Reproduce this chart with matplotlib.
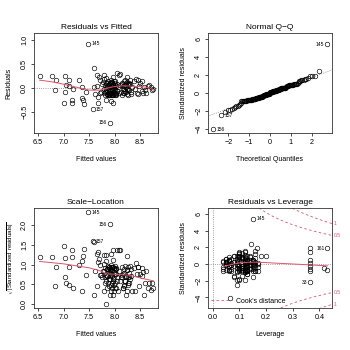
import matplotlib
matplotlib.use("Agg")
import matplotlib.pyplot as plt
from matplotlib.lines import Line2D
import numpy as np
from statistics import NormalDist

plt.rcParams['font.family'] = ['Liberation Sans', 'DejaVu Sans']
plt.rcParams['mathtext.fontset'] = 'custom'
plt.rcParams['mathtext.rm'] = 'Liberation Sans'

# ---- data (observations of the fitted linear model) ----
obs_names = ["145", "156", "157", "161", "33"]   # names of the first five observations

fitted = [7.48, 7.90, 7.57, 8.08, 7.00,
          6.53, 6.77, 6.85, 6.84, 7.03, 7.10, 7.30, 7.04, 7.11, 7.19, 7.03, 7.36, 7.43,
          7.16, 7.16, 7.36, 7.38, 7.40,
          7.59, 7.66, 7.69, 7.65, 7.62, 7.68, 7.68, 7.60, 7.72, 7.74, 7.71, 7.75,
          7.78, 7.79, 7.80, 7.81, 7.82, 7.83, 7.83, 7.84, 7.85, 7.85, 7.86, 7.86, 7.87, 7.87,
          7.88, 7.88, 7.89, 7.89, 7.90, 7.90, 7.91, 7.91, 7.92, 7.92, 7.93, 7.93, 7.94, 7.94,
          7.95, 7.95, 7.96, 7.96, 7.97, 7.97, 7.98, 7.98, 7.99, 7.99, 8.00, 8.00, 8.01, 8.01,
          8.02, 8.03, 8.03, 8.04, 8.05, 8.05, 8.07, 8.08, 8.10, 8.10, 7.84, 7.92, 7.80, 7.97,
          7.79, 7.81, 7.83, 7.85, 7.87, 7.88, 7.90, 7.91, 7.93, 7.94, 7.95, 7.96, 7.98, 7.99,
          8.01, 8.02,
          8.13, 8.14, 8.15, 8.16, 8.17, 8.18, 8.19, 8.20, 8.21, 8.21, 8.22, 8.23, 8.24, 8.24,
          8.25, 8.26, 8.27, 8.28, 8.29, 8.30, 8.31, 8.33, 8.34, 8.18, 8.26, 8.15, 8.17, 8.19,
          8.22, 8.25, 8.27, 8.29, 8.32,
          8.38, 8.42, 8.40, 8.44, 8.46, 8.48, 8.50, 8.53, 8.53, 8.55, 8.57, 8.59, 8.62, 8.66,
          8.68, 8.71, 8.74, 8.76, 8.45]

resid = [0.92, -0.73, -0.45, 0.26, -0.32,
         0.25, 0.25, 0.16, -0.04, 0.24, 0.16, 0.17, 0.05, 0.04, -0.03, -0.08, 0.02, -0.09,
         -0.25, -0.33, -0.21, -0.26, -0.34,
         0.42, 0.27, 0.23, 0.04, -0.13, -0.20, -0.31, 0.01, 0.16, -0.08, -0.10, 0.08,
         0.12, -0.02, -0.12, 0.05, -0.15, 0.20, -0.06, 0.00, -0.14, 0.09, -0.09, 0.03, -0.16, 0.14,
         -0.04, -0.11, 0.07, -0.16, 0.01, -0.07, 0.11, -0.13, -0.02, 0.17, -0.10, 0.04, -0.15, 0.09,
         -0.05, 0.13, -0.33, -0.01, 0.06, -0.15, 0.02, -0.08, 0.15, -0.12, 0.05, -0.16, -0.03, 0.10,
         -0.10, 0.03, -0.15, 0.08, 0.32, -0.06, 0.02, -0.12, 0.28, 0.06, -0.26, -0.28, 0.27, 0.22,
         0.18, -0.08, 0.10, -0.14, 0.05, -0.15, 0.09, -0.15, 0.12, -0.03, -0.16, 0.07, -0.14, -0.04,
         0.14, -0.14,
         -0.08, 0.10, -0.15, 0.03, -0.03, 0.14, -0.11, 0.06, 0.16, -0.06, 0.01, 0.09, -0.13, 0.22,
         -0.02, 0.05, -0.15, 0.11, -0.05, 0.07, 0.16, -0.09, 0.02, -0.03, 0.07, 0.08, -0.10, 0.04,
         -0.08, 0.13, -0.04, 0.08, -0.14,
         0.15, 0.19, -0.02, -0.10, -0.13, 0.04, 0.10, 0.14, -0.07, -0.12, 0.01, -0.05, -0.10, 0.03,
         0.05, 0.02, -0.05, -0.03, 0.16]

leverage = [0.152, 0.065, 0.089, 0.43, 0.365,
            0.10, 0.12, 0.08, 0.06, 0.11, 0.09, 0.13, 0.05, 0.14, 0.07, 0.10, 0.12, 0.16,
            0.11, 0.09, 0.13, 0.08, 0.12,
            0.145, 0.16, 0.10, 0.05, 0.06, 0.13, 0.10, 0.09, 0.20, 0.365, 0.07, 0.15,
            0.11, 0.05, 0.13, 0.04, 0.10, 0.16, 0.12, 0.05, 0.09, 0.14, 0.11, 0.17, 0.12, 0.10,
            0.06, 0.15, 0.13, 0.04, 0.11, 0.17, 0.09, 0.12, 0.05, 0.14, 0.10, 0.16, 0.13, 0.06,
            0.11, 0.12, 0.10, 0.15, 0.04, 0.17, 0.13, 0.09, 0.11, 0.05, 0.14, 0.12, 0.16, 0.10,
            0.13, 0.07, 0.11, 0.15, 0.165, 0.04, 0.13, 0.10, 0.365, 0.06, 0.15, 0.08, 0.12, 0.10,
            0.08, 0.14, 0.07, 0.12, 0.09, 0.16, 0.13, 0.06, 0.11, 0.14, 0.09, 0.12, 0.15, 0.08,
            0.11, 0.13,
            0.11, 0.05, 0.13, 0.16, 0.09, 0.12, 0.04, 0.15, 0.10, 0.13, 0.17, 0.06, 0.11, 0.365,
            0.10, 0.12, 0.16, 0.05, 0.13, 0.09, 0.18, 0.11, 0.15, 0.365, 0.365, 0.12, 0.14, 0.08,
            0.12, 0.16, 0.10, 0.13, 0.07,
            0.10, 0.12, 0.07, 0.13, 0.365, 0.05, 0.11, 0.14, 0.417, 0.06, 0.12, 0.15, 0.43, 0.13,
            0.08, 0.365, 0.11, 0.14, 0.06]

sigma = 0.185          # residual standard error of the model
n_params = 19          # number of model coefficients
cook_levels = [0.5, 1.0]

# smoothed (red) curves
smooth_rf_x = [6.53, 6.80, 7.06, 7.30, 7.51, 7.71, 7.85, 7.97, 8.10, 8.23, 8.40, 8.56, 8.68, 8.76]
smooth_rf_y = [0.16, 0.12, 0.06, 0.00, -0.05, -0.05, -0.01, 0.02, 0.04, 0.04, 0.03, 0.02, 0.00, -0.05]
smooth_sl_x = [6.53, 7.00, 7.50, 7.70, 7.85, 8.00, 8.30, 8.55, 8.76]
smooth_sl_y = [1.08, 1.02, 0.92, 0.85, 0.76, 0.76, 0.73, 0.65, 0.59]
smooth_lv_x = [0.04, 0.07, 0.10, 0.13, 0.16, 0.19, 0.25, 0.32, 0.37, 0.43]
smooth_lv_y = [-0.30, -0.05, 0.12, 0.20, 0.22, 0.18, 0.08, -0.03, -0.12, -0.22]

# ---- derived diagnostics ----
f = np.array(fitted)
r = np.array(resid)
h = np.array(leverage)
std_res = r / (sigma * np.sqrt(1 - h))
sqrt_abs = np.sqrt(np.abs(std_res))
n = len(r)
nd = NormalDist()
theo = np.array([nd.inv_cdf((i - 0.5) / n) for i in range(1, n + 1)])
order = np.argsort(std_res)
qq_x = np.empty(n)
qq_x[order] = theo

RED = "#DF536B"
TITLE_FS = 6.0
LABEL_FS = 5.0
TICK_FS = 5.2
ID_FS = 3.6
MS = 3.3

fig = plt.figure(figsize=(3.5, 3.5), dpi=100)
W = 124 / 350
H = 100 / 350
positions = [(34 / 350, 1 - 133 / 350), (208 / 350, 1 - 133 / 350),
             (34 / 350, 1 - 308 / 350), (208 / 350, 1 - 308 / 350)]
axes = [fig.add_axes([x, y, W, H]) for x, y in positions]


def style(ax, title, xlabel, ylabel, ylabel_fs=LABEL_FS, ylabelpad=6):
    ax.set_title(title, fontsize=TITLE_FS, pad=3)
    ax.set_xlabel(xlabel, fontsize=LABEL_FS, labelpad=7)
    ax.set_ylabel(ylabel, fontsize=ylabel_fs, labelpad=ylabelpad)
    ax.tick_params(direction='out', length=2.2, width=0.5, labelsize=TICK_FS, pad=2,
                   top=False, right=False)
    ax.tick_params(axis='y', labelrotation=90)
    for lab in ax.get_yticklabels():
        lab.set_va('center')
    for sp in ax.spines.values():
        sp.set_linewidth(0.6)
        sp.set_color('#333333')


def scatter(ax, x, y):
    ax.plot(x, y, 'o', mfc='none', mec='black', ms=MS, mew=0.45, ls='none')


def label_ids(ax, x, y, idxs, names):
    mid = (np.min(x) + np.max(x)) / 2
    for i, nm in zip(idxs, names):
        right = x[i] <= mid
        ax.annotate(nm, (x[i], y[i]), xytext=(2.2 if right else -2.2, 0),
                    textcoords='offset points', ha='left' if right else 'right',
                    va='center', fontsize=ID_FS)


# Panel 1: Residuals vs Fitted
ax = axes[0]
ax.axhline(0, color='gray', ls=':', lw=0.6)
scatter(ax, f, r)
ax.plot(smooth_rf_x, smooth_rf_y, color=RED, lw=0.7)
ax.set_xlim(6.42, 8.85)
ax.set_ylim(-0.95, 1.15)
ax.set_xticks([6.5, 7.0, 7.5, 8.0, 8.5])
ax.set_yticks([-0.5, 0.0, 0.5, 1.0])
style(ax, "Residuals vs Fitted", "Fitted values", "Residuals")
label_ids(ax, f, r, [0, 1, 2], ["145", "156", "157"])

# Panel 2: Normal Q-Q
ax = axes[1]
q1, q3 = np.percentile(std_res, [25, 75])
z1, z3 = nd.inv_cdf(0.25), nd.inv_cdf(0.75)
slope = (q3 - q1) / (z3 - z1)
icpt = q1 - slope * z1
xx = np.array([-3.2, 3.2])
ax.plot(xx, icpt + slope * xx, color='gray', ls=':', lw=0.6)
scatter(ax, qq_x, std_res)
ax.set_xlim(-2.98, 2.98)
ax.set_ylim(-4.5, 6.65)
ax.set_xticks([-2, -1, 0, 1, 2])
ax.set_yticks([-4, -2, 0, 2, 4, 6])
style(ax, "Normal Q\u2212Q", "Theoretical Quantiles", "Standardized residuals")
label_ids(ax, qq_x, std_res, [0, 1, 2], ["145", "156", "157"])

# Panel 3: Scale-Location
ax = axes[2]
scatter(ax, f, sqrt_abs)
ax.plot(smooth_sl_x, smooth_sl_y, color=RED, lw=0.7)
ax.set_xlim(6.42, 8.85)
ax.set_ylim(-0.095, 2.43)
ax.set_xticks([6.5, 7.0, 7.5, 8.0, 8.5])
ax.set_yticks([0.0, 0.5, 1.0, 1.5, 2.0])
style(ax, "Scale\u2212Location", "Fitted values",
      r"$\sqrt{|\mathrm{Standardized\ residuals}|}$", ylabel_fs=4.4, ylabelpad=4)
label_ids(ax, f, sqrt_abs, [0, 1, 2], ["145", "156", "157"])

# Panel 4: Residuals vs Leverage
ax = axes[3]
xmin4, xmax4 = -0.018, 0.447
ax.axhline(0, color='gray', ls=':', lw=0.6)
ax.axvline(0, color='gray', ls=':', lw=0.6)
scatter(ax, h, std_res)
ax.plot(smooth_lv_x, smooth_lv_y, color=RED, lw=0.7)
hh = np.linspace(0.005, xmax4, 200)
for lev in cook_levels:
    cl = np.sqrt(lev * n_params * (1 - hh) / hh)
    ax.plot(hh, cl, color=RED, ls=(0, (3, 3)), lw=0.6)
    ax.plot(hh, -cl, color=RED, ls=(0, (3, 3)), lw=0.6)
ymult = np.sqrt(n_params * (1 - xmax4) / xmax4)
for lev in cook_levels:
    for sgn in (1, -1):
        ax.text(1.015, sgn * np.sqrt(lev) * ymult, f"{lev:g}",
                transform=ax.get_yaxis_transform(), color=RED, fontsize=ID_FS,
                ha='left', va='center', clip_on=False)
ax.set_xlim(xmin4, xmax4)
ax.set_ylim(-5.28, 6.72)
ax.set_xticks([0.0, 0.1, 0.2, 0.3, 0.4])
ax.set_yticks([-4, -2, 0, 2, 4, 6])
style(ax, "Residuals vs Leverage", "Leverage", "Standardized residuals")
label_ids(ax, h, std_res, [0, 3, 4], ["145", "161", "33"])
ax.legend(handles=[Line2D([], [], color=RED, ls=(0, (3, 3)), lw=0.6)],
          labels=["Cook's distance"], loc='lower left', frameon=False,
          fontsize=LABEL_FS, handlelength=3.0, handletextpad=0.5,
          borderaxespad=0.3, borderpad=0.2)

fig.savefig("out.png", dpi=100)
